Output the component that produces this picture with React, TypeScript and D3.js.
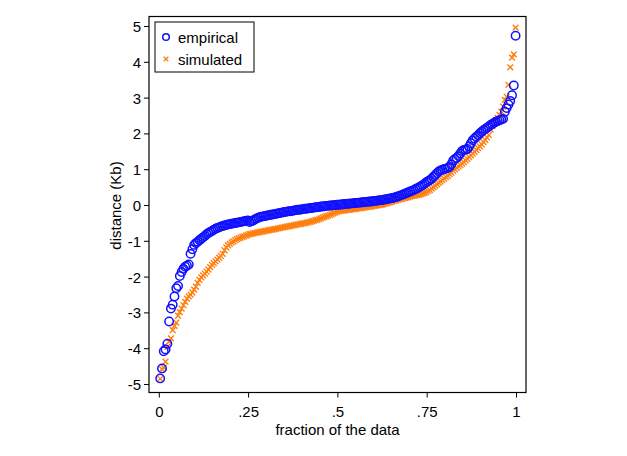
import React from "react";
import * as d3 from "d3";

const empirical: number[] = [
  -4.83, -4.55, -4.07, -4.02, -3.86, -3.24, -2.88, -2.77, -2.54, -2.31,
  -2.25, -1.97, -1.86, -1.77, -1.71, -1.68, -1.65, -1.35, -1.22, -1.10,
  -1.05, -1.01, -0.97, -0.93, -0.89, -0.85, -0.80, -0.77, -0.74, -0.71,
  -0.68, -0.65, -0.63, -0.61, -0.59, -0.57, -0.56, -0.54, -0.53, -0.52,
  -0.51, -0.50, -0.49, -0.48, -0.47, -0.46, -0.45, -0.44, -0.43, -0.42,
  -0.46, -0.44, -0.42, -0.39, -0.36, -0.34, -0.32, -0.31, -0.30, -0.29,
  -0.28, -0.27, -0.26, -0.25, -0.24, -0.23, -0.22, -0.21, -0.20, -0.19,
  -0.18, -0.17, -0.16, -0.16, -0.15, -0.14, -0.13, -0.12, -0.12, -0.11,
  -0.10, -0.09, -0.09, -0.08, -0.07, -0.07, -0.06, -0.05, -0.05, -0.04,
  -0.03, -0.03, -0.02, -0.01, -0.01, 0.00, 0.00, 0.01, 0.01, 0.02,
  0.02, 0.03, 0.03, 0.04, 0.04, 0.05, 0.05, 0.06, 0.06, 0.07,
  0.07, 0.08, 0.08, 0.09, 0.09, 0.10, 0.10, 0.11, 0.11, 0.12,
  0.13, 0.13, 0.14, 0.15, 0.15, 0.16, 0.17, 0.18, 0.19, 0.20,
  0.21, 0.22, 0.24, 0.25, 0.27, 0.29, 0.31, 0.33, 0.35, 0.37,
  0.39, 0.41, 0.43, 0.46, 0.48, 0.51, 0.54, 0.57, 0.61, 0.65,
  0.68, 0.71, 0.75, 0.80, 0.85, 0.90, 0.95, 0.98, 1.00, 1.02,
  1.03, 1.05, 1.08, 1.15, 1.25, 1.30, 1.33, 1.38, 1.45, 1.52,
  1.55, 1.56, 1.58, 1.65, 1.74, 1.82, 1.87, 1.92, 1.96, 2.02,
  2.06, 2.10, 2.14, 2.17, 2.21, 2.25, 2.28, 2.31, 2.34, 2.36,
  2.38, 2.40, 2.42, 2.62, 2.72, 2.82, 2.92, 3.08, 3.35, 4.74,
];

const simulated: number[] = [
  -4.84, -4.57, -4.53, -4.36, -3.95, -3.80, -3.71, -3.48, -3.36, -3.27,
  -3.08, -2.98, -2.88, -2.78, -2.69, -2.60, -2.54, -2.49, -2.43, -2.35,
  -2.27, -2.16, -2.08, -2.01, -1.95, -1.90, -1.85, -1.79, -1.72, -1.66,
  -1.61, -1.56, -1.51, -1.46, -1.41, -1.35, -1.25, -1.17, -1.11, -1.07,
  -1.03, -1.00, -0.97, -0.94, -0.92, -0.90, -0.88, -0.86, -0.84, -0.82,
  -0.80, -0.79, -0.78, -0.77, -0.76, -0.75, -0.74, -0.73, -0.72, -0.71,
  -0.70, -0.69, -0.68, -0.67, -0.66, -0.65, -0.64, -0.63, -0.62, -0.61,
  -0.60, -0.59, -0.58, -0.57, -0.56, -0.55, -0.54, -0.53, -0.52, -0.51,
  -0.50, -0.49, -0.48, -0.47, -0.46, -0.44, -0.43, -0.41, -0.40, -0.38,
  -0.36, -0.34, -0.32, -0.30, -0.28, -0.26, -0.24, -0.22, -0.20, -0.18,
  -0.16, -0.15, -0.14, -0.14, -0.13, -0.12, -0.12, -0.11, -0.10, -0.10,
  -0.09, -0.08, -0.07, -0.07, -0.06, -0.05, -0.04, -0.04, -0.03, -0.02,
  -0.01, 0.00, 0.01, 0.01, 0.02, 0.03, 0.05, 0.06, 0.08, 0.09,
  0.11, 0.13, 0.14, 0.16, 0.17, 0.18, 0.20, 0.21, 0.22, 0.23,
  0.25, 0.26, 0.27, 0.28, 0.29, 0.30, 0.32, 0.33, 0.35, 0.37,
  0.40, 0.43, 0.47, 0.51, 0.55, 0.59, 0.63, 0.67, 0.71, 0.75,
  0.79, 0.83, 0.88, 0.92, 0.97, 1.01, 1.05, 1.09, 1.13, 1.17,
  1.21, 1.26, 1.30, 1.35, 1.40, 1.45, 1.50, 1.55, 1.60, 1.65,
  1.71, 1.77, 1.83, 1.90, 1.97, 2.12, 2.22, 2.30, 2.38, 2.45,
  2.53, 2.62, 2.76, 2.95, 3.04, 3.37, 3.86, 4.13, 4.22, 4.97,
];

const xTicks: number[] = [0, 0.25, 0.5, 0.75, 1];
const xTickLabels: string[] = ["0", ".25", ".5", ".75", "1"];
const yTicks: number[] = [-5, -4, -3, -2, -1, 0, 1, 2, 3, 4, 5];
const seriesNames: string[] = ["empirical", "simulated"];

const BLUE = "#1010ff";
const ORANGE = "#ff7f0e";
const FONT = "'Liberation Sans', Arial, sans-serif";

const W = 627;
const H = 456;
const L = 149;
const R = 526;
const T = 16.5;
const B = 392.5;

export default function App() {
  const x = d3.scaleLinear().domain([0, 1]).range([159.3, 516.5]);
  const y = d3.scaleLinear().domain([-5, 5]).range([384.5, 26.5]);

  // quantile plot: fraction = (i + 0.5) / n
  const frac = (i: number, n: number) => (i + 0.5) / n;

  const cross = (cx: number, cy: number, s: number) =>
    `M${cx - s},${cy - s}L${cx + s},${cy + s}M${cx - s},${cy + s}L${cx + s},${cy - s}`;

  return (
    <svg
      width={W}
      height={H}
      style={{ position: "absolute", left: 0, top: 0, background: "#fff" }}
      fontFamily={FONT}
    >
      <rect x={0} y={0} width={W} height={H} fill="#fff" />
      <clipPath id="plotclip">
        <rect x={L} y={T} width={R - L} height={B - T} />
      </clipPath>

      <g clipPath="url(#plotclip)">
        {simulated.map((v, i) => (
          <path
            key={"s" + i}
            d={cross(x(frac(i, simulated.length)), y(v), 2.9)}
            stroke={ORANGE}
            strokeWidth={1.4}
            fill="none"
          />
        ))}
        {empirical.map((v, i) => (
          <circle
            key={"e" + i}
            cx={x(frac(i, empirical.length))}
            cy={y(v)}
            r={4.2}
            fill="none"
            stroke={BLUE}
            strokeWidth={1.5}
          />
        ))}
      </g>

      {/* frame */}
      <rect x={L} y={T} width={R - L} height={B - T} fill="none" stroke="#000" strokeWidth={1.2} />

      {/* y axis */}
      {yTicks.map((t) => (
        <g key={"yt" + t}>
          <line x1={L - 5} x2={L} y1={y(t)} y2={y(t)} stroke="#000" strokeWidth={1} />
          <text
            x={L - 8}
            y={y(t)}
            dy="0.36em"
            textAnchor="end"
            fontSize={15}
            fill="#000"
          >
            {t}
          </text>
        </g>
      ))}
      <text
        transform={`translate(${121},${y(0)}) rotate(-90)`}
        textAnchor="middle"
        fontSize={15}
        fill="#000"
      >
        distance (Kb)
      </text>

      {/* x axis */}
      {xTicks.map((t, i) => (
        <g key={"xt" + t}>
          <line x1={x(t)} x2={x(t)} y1={B} y2={B + 5} stroke="#000" strokeWidth={1} />
          <text x={x(t)} y={417} textAnchor="middle" fontSize={15} fill="#000">
            {xTickLabels[i]}
          </text>
        </g>
      ))}
      <text x={(L + R) / 2} y={435} textAnchor="middle" fontSize={15} fill="#000">
        fraction of the data
      </text>

      {/* legend */}
      <rect x={155} y={22} width={99} height={50} fill="#fff" stroke="#000" strokeWidth={1} />
      <circle cx={166} cy={37} r={3.3} fill="none" stroke={BLUE} strokeWidth={1.5} />
      <path d={cross(166, 59, 2.3)} stroke={ORANGE} strokeWidth={1.3} fill="none" />
      <text x={178} y={42.5} fontSize={15} fill="#000">
        {seriesNames[0]}
      </text>
      <text x={178} y={64.5} fontSize={15} fill="#000">
        {seriesNames[1]}
      </text>
    </svg>
  );
}
